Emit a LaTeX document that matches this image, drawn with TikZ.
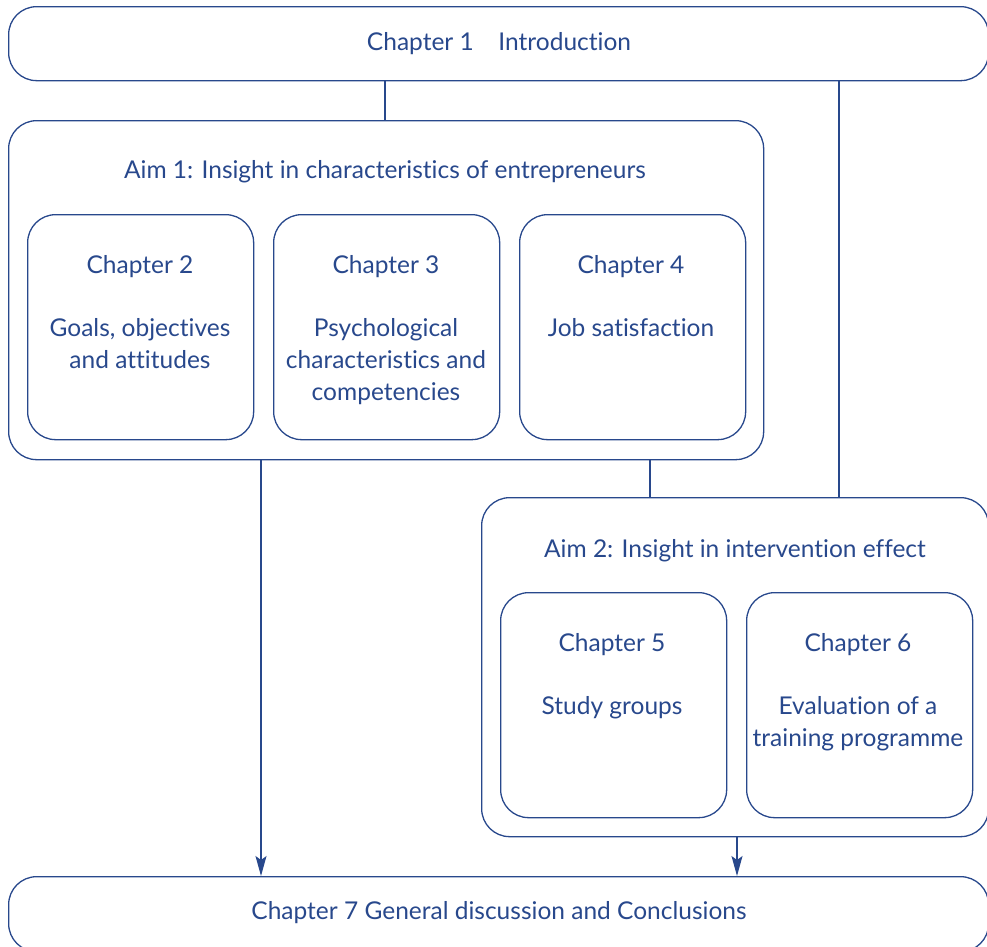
\documentclass[tikz,border=0pt]{standalone}
\usepackage{fontspec}
\setmainfont{Lato}[Ligatures=NoCommon]
\usetikzlibrary{arrows.meta}
\definecolor{navy}{RGB}{40,72,140}
\begin{document}
\begin{tikzpicture}[x=1pt,y=-1pt,
  box/.style={draw=navy, line width=1.3pt, rounded corners=28pt, inner sep=0pt, anchor=north west},
  lbl/.style={text=navy, font=\fontsize{24.5}{32}\selectfont, align=center, inner sep=0pt, anchor=base},
  link/.style={draw=navy, line width=1.3pt},
  arr/.style={link, -{Stealth[length=20pt,width=11pt,inset=4pt]}}]
\useasboundingbox (0,0) rectangle (987,946);

% outer boxes
\node[box, minimum width=980pt, minimum height=74pt] (ch1) at (8,6) {};
\node[box, minimum width=755pt, minimum height=339pt] (aim1) at (8,120) {};
\node[box, minimum width=507pt, minimum height=339pt] (aim2) at (481,497) {};
\node[box, minimum width=980pt, minimum height=75pt] (ch7) at (8,876) {};

% chapter boxes
\node[box, minimum width=226pt, minimum height=225pt] (ch2) at (27,214) {};
\node[box, minimum width=226pt, minimum height=225pt] (ch3) at (273,214) {};
\node[box, minimum width=226pt, minimum height=225pt] (ch4) at (519,214) {};
\node[box, minimum width=226pt, minimum height=225pt] (ch5) at (500,592) {};
\node[box, minimum width=226pt, minimum height=225pt] (ch6) at (746,592) {};

% headings (anchored at baseline; multi-line bodies at their last baseline)
\node[lbl] (t1) at (499,50) {Chapter 1\hspace{0.75em} Introduction};
\node[lbl] (ta1) at (385,178) {Aim 1: Insight in characteristics of entrepreneurs};
\node[lbl] (h2) at (140,273) {Chapter 2};
\node[lbl] (b2) at (140,368) {Goals, objectives\\and attitudes};
\node[lbl] (h3) at (386,273) {Chapter 3};
\node[lbl] (b3) at (386,400) {Psychological\\characteristics and\\competencies};
\node[lbl] (h4) at (631,273) {Chapter 4};
\node[lbl] (b4) at (631,336) {Job satisfaction};
\node[lbl] (ta2) at (735,557) {Aim 2: Insight in intervention effect};
\node[lbl] (h5) at (612,651) {Chapter 5};
\node[lbl] (b5) at (612,714) {Study groups};
\node[lbl] (h6) at (858,651) {Chapter 6};
\node[lbl] (b6) at (858,746) {Evaluation of a\\training programme};
\node[lbl] (t7) at (499,919) {Chapter 7 General discussion and Conclusions};

% connector positions
\coordinate (xa) at (385,0);
\coordinate (xb) at (839,0);
\coordinate (xc) at (650,0);
\coordinate (xd) at (261,0);
\coordinate (xe) at (737,0);

\draw[link] (xa |- ch1.south) -- (xa |- aim1.north);
\draw[link] (xb |- ch1.south) -- (xb |- aim2.north);
\draw[link] (xc |- aim1.south) -- (xc |- aim2.north);
\draw[arr] (xd |- aim1.south) -- (xd |- ch7.north);
\draw[arr] (xe |- aim2.south) -- (xe |- ch7.north);
\end{tikzpicture}
\end{document}
